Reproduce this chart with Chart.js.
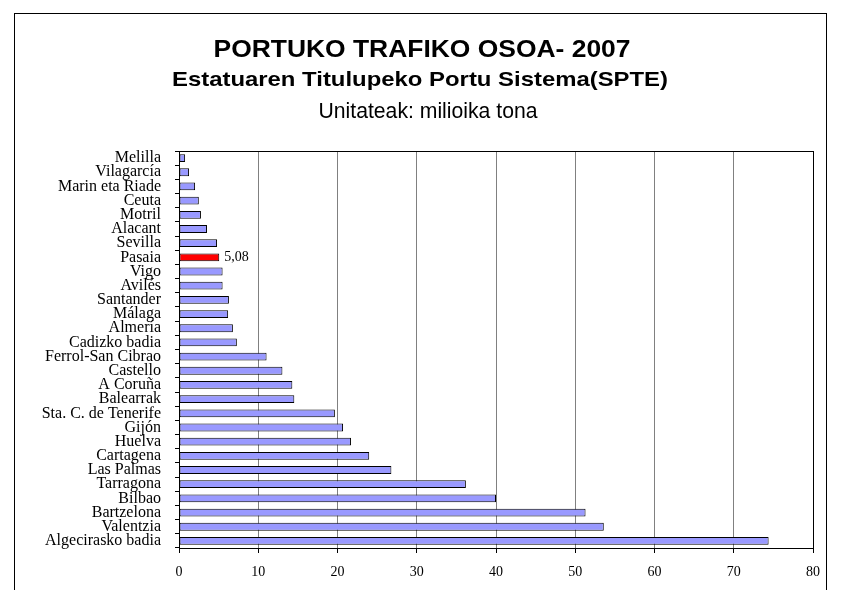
<!DOCTYPE html>
<html>
<head>
<meta charset="utf-8">
<script src="https://cdn.jsdelivr.net/npm/chart.js@4"></script>
<style>
    html, body { margin: 0; padding: 0; background: #fff; }
    #wrap { width: 841px; height: 590px; position: relative; }
</style>
</head>
<body>
<div id="wrap"><canvas id="Chart"></canvas></div>
<script>
// Ports, top to bottom as in the picture
const ports = [
    "Melilla", "Vilagarcía", "Marin eta Riade", "Ceuta", "Motril", "Alacant",
    "Sevilla", "Pasaia", "Vigo", "Avilés", "Santander", "Málaga", "Almería",
    "Cadizko badia", "Ferrol-San Cibrao", "Castello", "A Coruña", "Balearrak",
    "Sta. C. de Tenerife", "Gijón", "Huelva", "Cartagena", "Las Palmas",
    "Tarragona", "Bilbao", "Bartzelona", "Valentzia", "Algecirasko badia"
];
// total traffic, million tonnes
const traffic = [
    0.77, 1.27, 2.03, 2.5, 2.77, 3.53,
    4.8, 5.08, 5.5, 5.5, 6.3, 6.2, 6.8,
    7.3, 11.05, 13.05, 14.3, 14.55,
    19.67, 20.7, 21.7, 24.0, 26.8,
    36.2, 40.0, 51.3, 53.6, 74.4
];
const highlight = "Pasaia";
const xTicks = [0, 10, 20, 30, 40, 50, 60, 70, 80];

const titleLines = [
    "PORTUKO TRAFIKO OSOA- 2007",
    "Estatuaren Titulupeko Portu Sistema(SPTE)",
    "Unitateak: milioika tona"
];

let barColors = ports.map(function (p) {
    return p === highlight ? "#FF0000" : "#9999FF";
});

const serif = "'Liberation Serif', 'Times New Roman', serif";
const sans = "'Liberation Sans', Arial, sans-serif";

// draw a text centred on cx, stretched to a given width
function fitText(c, text, font, cx, baseline, width) {
    c.save();
    c.font = font;
    let w = c.measureText(text).width;
    c.translate(cx, baseline);
    c.scale(width / w, 1);
    c.textAlign = "center";
    c.textBaseline = "alphabetic";
    c.fillText(text, 0, 0);
    c.restore();
}

// frame + titles + value label
const decor = {
    id: "decor",
    beforeDraw: function (chart) {
        let c = chart.ctx;
        c.save();
        c.fillStyle = "#fff";
        c.fillRect(0, 0, chart.width, chart.height);
        c.strokeStyle = "#000";
        c.lineWidth = 1;
        c.strokeRect(14.5, 13.5, 812, 600);
        c.restore();
    },
    afterDraw: function (chart) {
        let c = chart.ctx;
        let area = chart.chartArea;
        c.save();
        c.fillStyle = "#000";
        fitText(c, titleLines[0], "bold 24px " + sans, 422, 57, 417);
        fitText(c, titleLines[1], "bold 21px " + sans, 420, 86, 496);
        fitText(c, titleLines[2], "21.5px " + sans, 428, 118, 219);

        // plot border
        c.strokeStyle = "#000";
        c.lineWidth = 1;
        c.strokeRect(Math.round(area.left) + 0.5, Math.round(area.top) + 0.5,
            Math.round(area.right - area.left), Math.round(area.bottom - area.top));

        // value next to highlighted bar
        let idx = ports.indexOf(highlight);
        let bar = chart.getDatasetMeta(0).data[idx];
        c.font = "14px " + serif;
        c.textAlign = "left";
        c.textBaseline = "middle";
        c.fillText(traffic[idx].toFixed(2).replace(".", ","), bar.x + 5, bar.y);
        c.restore();
    }
};

let ctx = document.getElementById("Chart").getContext("2d");

let chart = new Chart(ctx, {
    type: "bar",
    data: {
        labels: ports,
        datasets: [
            {
                label: "",
                data: traffic,
                backgroundColor: barColors,
                borderColor: "#000",
                borderWidth: 1,
                borderSkipped: false,
                barPercentage: 0.55,
                categoryPercentage: 1.0
            }
        ]
    },
    options: {
        indexAxis: "y",
        responsive: true,
        maintainAspectRatio: false,
        animation: false,
        layout: {
            padding: { top: 151, right: 28, bottom: 0, left: 0 }
        },
        scales: {
            x: {
                min: 0,
                max: 80,
                afterBuildTicks: function (axis) {
                    axis.ticks = xTicks.map(function (v) { return { value: v }; });
                },
                afterFit: function (axis) {
                    axis.height = 42; // axis line near y=548
                },
                grid: {
                    color: "#808080",
                    tickColor: "#000",
                    tickLength: 5
                },
                border: { color: "#000" },
                ticks: {
                    color: "#000",
                    padding: 11,
                    maxRotation: 0,
                    font: { family: serif, size: 14 }
                }
            },
            y: {
                afterFit: function (axis) {
                    axis.width = 179;
                },
                grid: {
                    drawOnChartArea: false,
                    tickColor: "#000",
                    tickLength: 4
                },
                border: { color: "#000" },
                ticks: {
                    color: "#000",
                    padding: 14,
                    autoSkip: false,
                    font: { family: serif, size: 16 }
                }
            }
        },
        plugins: {
            legend: { display: false },
            title: { display: false },
            tooltip: { enabled: false }
        }
    },
    plugins: [decor]
});
</script>
</body>
</html>
